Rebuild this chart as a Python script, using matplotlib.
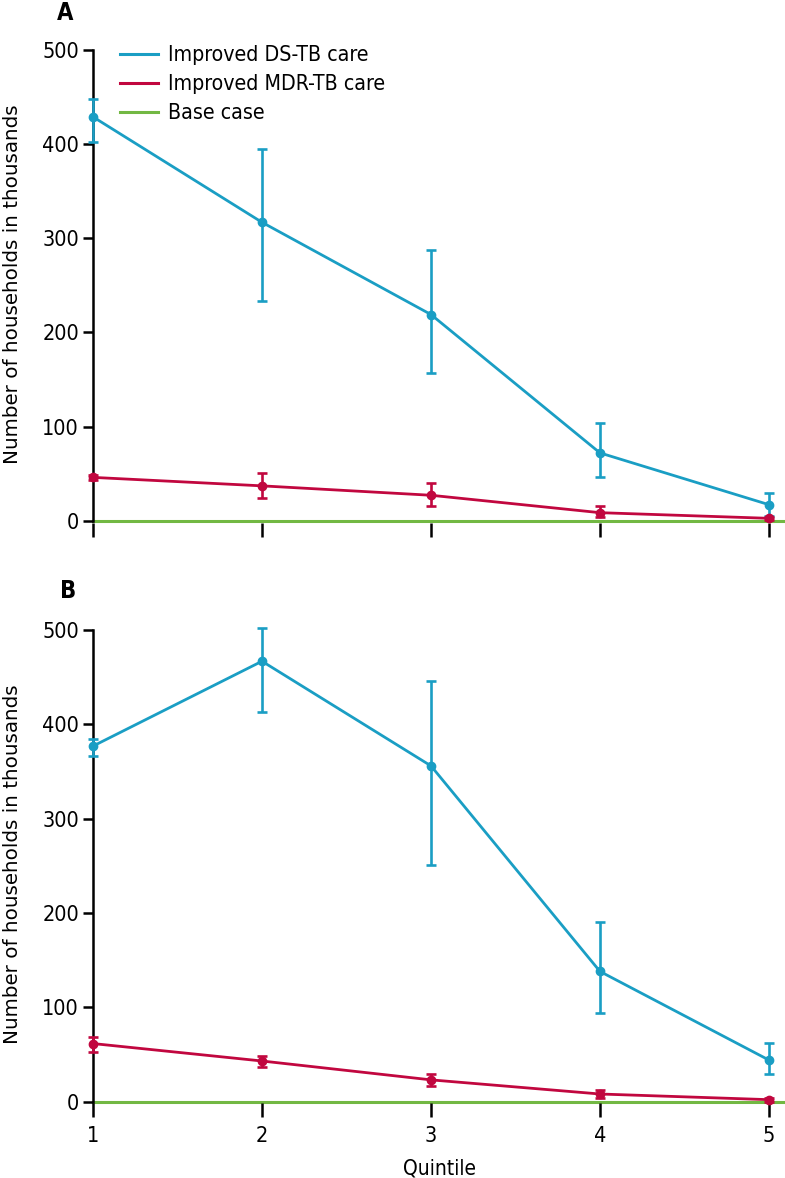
import numpy as np
import matplotlib
matplotlib.use("Agg")
import matplotlib.pyplot as plt

plt.rcParams["font.family"] = ["DejaVu Sans"]
plt.rcParams["font.stretch"] = "condensed"

# Quintiles on the x axis
quintiles = [1, 2, 3, 4, 5]

# Panel A: value, lower, upper (thousands of households)
ds_a = [429, 317, 219, 72, 17]
ds_a_lo = [402, 233, 157, 46, 5]
ds_a_hi = [448, 395, 288, 104, 29]
mdr_a = [46, 37, 27, 8.5, 2.5]
mdr_a_lo = [43, 24, 16, 4, 0.5]
mdr_a_hi = [49, 51, 40, 15.5, 4]

# Panel B
ds_b = [377, 467, 356, 138, 44]
ds_b_lo = [367, 413, 251, 94, 29]
ds_b_hi = [384, 502, 446, 190, 62]
mdr_b = [61.5, 43, 23, 8, 2]
mdr_b_lo = [52.5, 37, 16, 3.5, 0]
mdr_b_hi = [68.5, 48, 29, 12.5, 4]

yticks = [0, 100, 200, 300, 400, 500]

DS_COLOR = "#1a9ec4"
MDR_COLOR = "#c1073f"
BASE_COLOR = "#72b843"


def draw_panel(ax, ds, ds_lo, ds_hi, mdr, mdr_lo, mdr_hi, show_xlabels):
    x = np.array(quintiles)
    ax.axhline(0, color=BASE_COLOR, lw=2.2, zorder=1, clip_on=False)
    for vals, lo, hi, col in [
        (ds, ds_lo, ds_hi, DS_COLOR),
        (mdr, mdr_lo, mdr_hi, MDR_COLOR),
    ]:
        vals = np.array(vals, dtype=float)
        yerr = [vals - np.array(lo), np.array(hi) - vals]
        ax.errorbar(x, vals, yerr=yerr, color=col, lw=2.0, elinewidth=1.9,
                    capsize=3.5, capthick=1.9, marker="o", ms=6,
                    clip_on=False, zorder=3)

    ax.set_xlim(1, 5.095)
    ax.set_ylim(-2, 505)
    ax.set_yticks(yticks)
    ax.set_xticks(quintiles)
    for side in ["top", "right", "bottom"]:
        ax.spines[side].set_visible(False)
    ax.spines["left"].set_bounds(0, 500)
    ax.spines["left"].set_linewidth(1.8)
    ax.tick_params(axis="y", length=7, width=1.8, labelsize=15.5, pad=3)
    ax.tick_params(axis="x", length=10, width=1.8, labelsize=15.5, pad=6)
    if not show_xlabels:
        ax.set_xticklabels([])
    ax.set_ylabel("Number of households in thousands", fontsize=14.3,
                  fontstretch="normal")
    ax.yaxis.set_label_coords(-0.103, 0.5)


fig = plt.figure(figsize=(7.85, 11.78), dpi=100)
ax_a = fig.add_axes([0.1185, 0.5564, 0.8815, 0.4051])
ax_b = fig.add_axes([0.1185, 0.0633, 0.8815, 0.4058])

draw_panel(ax_a, ds_a, ds_a_lo, ds_a_hi, mdr_a, mdr_a_lo, mdr_a_hi, False)
draw_panel(ax_b, ds_b, ds_b_lo, ds_b_hi, mdr_b, mdr_b_lo, mdr_b_hi, True)
ax_b.set_xlabel("Quintile", fontsize=15, labelpad=9)

# legend (line handles only)
handles = [plt.Line2D([], [], color=c, lw=2.2) for c in (DS_COLOR, MDR_COLOR, BASE_COLOR)]
ax_a.legend(handles, ["Improved DS-TB care", "Improved MDR-TB care", "Base case"],
            loc="upper left", bbox_to_anchor=(0.012, 1.04), frameon=False,
            fontsize=15.3, handlelength=1.75, handletextpad=0.5, labelspacing=0.42)

fig.text(0.0726, 0.999, "A", fontsize=17, fontweight="bold", va="top", ha="left")
fig.text(0.0765, 0.5085, "B", fontsize=17, fontweight="bold", va="top", ha="left")

fig.savefig("out.png", dpi=100)
